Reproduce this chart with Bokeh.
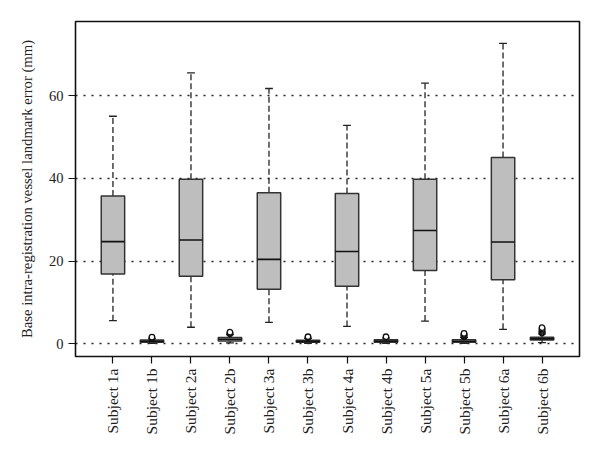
import math
from bokeh.plotting import figure
from bokeh.models import ColumnDataSource, Range1d, FixedTicker
from bokeh.embed import file_html
from bokeh.resources import INLINE

categories = ["Subject 1a", "Subject 1b", "Subject 2a", "Subject 2b", "Subject 3a", "Subject 3b",
              "Subject 4a", "Subject 4b", "Subject 5a", "Subject 5b", "Subject 6a", "Subject 6b"]
lower = [5.6, 0.1, 4.0, 0.2, 5.2, 0.1, 4.2, 0.1, 5.5, 0.1, 3.5, 0.3]
q1 = [16.9, 0.4, 16.3, 0.7, 13.2, 0.35, 13.9, 0.4, 17.7, 0.4, 15.5, 0.9]
median = [24.7, 0.6, 25.1, 1.1, 20.4, 0.55, 22.3, 0.65, 27.4, 0.6, 24.6, 1.2]
q3 = [35.7, 0.9, 39.8, 1.5, 36.5, 0.85, 36.3, 0.95, 39.8, 0.95, 45.0, 1.6]
upper = [55.0, 1.2, 65.5, 2.2, 61.7, 1.3, 52.8, 1.4, 63.0, 1.5, 72.6, 2.4]
outliers = {
    "Subject 1b": [1.4, 1.6],
    "Subject 2b": [2.4, 2.6, 2.8],
    "Subject 3b": [1.5, 1.7],
    "Subject 4b": [1.7],
    "Subject 5b": [1.7, 1.9, 2.1, 2.3, 2.5],
    "Subject 6b": [2.6, 2.8, 3.0, 3.3, 3.6, 3.9],
}
y_ticks = [0, 20, 40, 60]

FONT = "Liberation Serif"
xs = list(range(1, len(categories) + 1))
box_w = 0.6
cap_half = 0.1

src = ColumnDataSource(dict(
    x=xs, lower=lower, q1=q1, median=median, q3=q3, upper=upper,
    x0=[x - box_w / 2 for x in xs], x1=[x + box_w / 2 for x in xs],
    c0=[x - cap_half for x in xs], c1=[x + cap_half for x in xs],
))

ox, oy = [], []
for i, c in enumerate(categories):
    for v in outliers.get(c, []):
        ox.append(xs[i])
        oy.append(v)

p = figure(width=584, height=438, output_backend="svg", toolbar_location=None,
           x_range=Range1d(0.04, 12.96), y_range=Range1d(-3.07, 77.9))
p.min_border_left = 75
p.min_border_right = 5
p.min_border_top = 21
p.min_border_bottom = 82
p.background_fill_color = "white"
p.border_fill_color = "white"
p.outline_line_color = "#111111"
p.outline_line_width = 1.6

p.xgrid.visible = False
p.ygrid.ticker = FixedTicker(ticks=y_ticks)
p.ygrid.grid_line_color = "#222222"
p.ygrid.grid_line_dash = "2 6"
p.ygrid.grid_line_width = 1.3

# whiskers
p.segment(x0="x", y0="q3", x1="x", y1="upper", source=src, line_color="#222222",
          line_width=1.3, line_dash="6 3")
p.segment(x0="x", y0="lower", x1="x", y1="q1", source=src, line_color="#222222",
          line_width=1.3, line_dash="6 3")
# caps
p.segment(x0="c0", y0="upper", x1="c1", y1="upper", source=src, line_color="#222222", line_width=1.3)
p.segment(x0="c0", y0="lower", x1="c1", y1="lower", source=src, line_color="#222222", line_width=1.3)
# boxes
p.vbar(x="x", width=box_w, top="q3", bottom="q1", source=src, fill_color="#BEBEBE",
       line_color="#333333", line_width=1.5)
# medians
p.segment(x0="x0", y0="median", x1="x1", y1="median", source=src, line_color="#111111", line_width=1.6)
# outliers
p.scatter(ox, oy, marker="circle", size=5.5, fill_color="white", line_color="#111111", line_width=1.3)

for ax in (p.xaxis[0], p.yaxis[0]):
    ax.axis_line_color = None
    ax.major_tick_line_color = "#111111"
    ax.major_tick_line_width = 1.2
    ax.major_tick_out = 7
    ax.major_tick_in = 0
    ax.minor_tick_line_color = None
    ax.major_label_text_font = FONT
    ax.major_label_text_color = "#222222"
    ax.major_label_standoff = 5

p.xaxis.ticker = FixedTicker(ticks=xs)
p.xaxis.major_label_overrides = {x: c for x, c in zip(xs, categories)}
p.xaxis.major_label_orientation = math.pi / 2
p.xaxis.major_label_text_font_size = "15.5px"

p.yaxis.ticker = FixedTicker(ticks=y_ticks)
p.yaxis.major_label_text_font_size = "14.5px"
p.yaxis.axis_label = "Base intra-registration vessel landmark error (mm)"
p.yaxis.axis_label_text_font = FONT
p.yaxis.axis_label_text_font_style = "normal"
p.yaxis.axis_label_text_font_size = "14.7px"
p.yaxis.axis_label_text_color = "#222222"
p.yaxis.axis_label_standoff = 11

open("out.html", "w").write(file_html(p, INLINE))
